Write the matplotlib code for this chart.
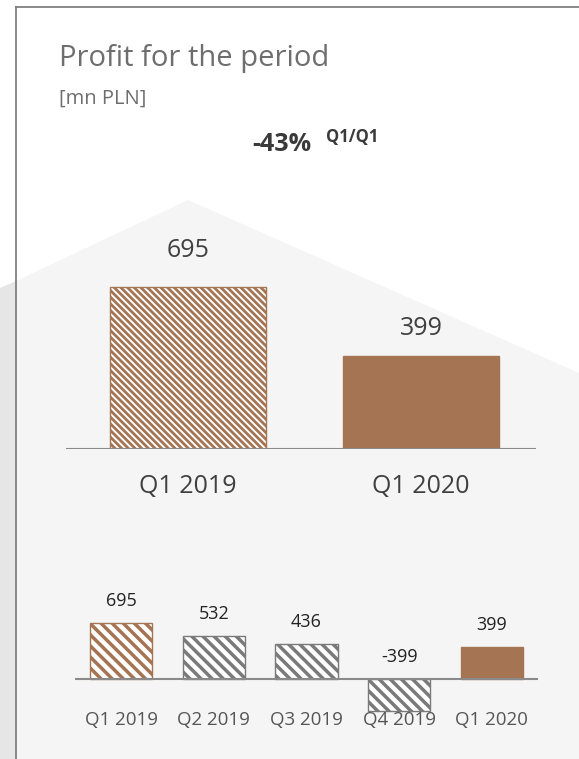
import numpy as np
import matplotlib.pyplot as plt
from matplotlib.patches import Polygon
from matplotlib.lines import Line2D

plt.rcParams['font.family'] = ['Open Sans', 'DejaVu Sans']

# data
main_labels = ['Q1 2019', 'Q1 2020']
main_values = [695, 399]
main_change = '-43%'
main_change_note = 'Q1/Q1'

quarter_labels = ['Q1 2019', 'Q2 2019', 'Q3 2019', 'Q4 2019', 'Q1 2020']
quarter_values = [695, 532, 436, -399, 399]

BROWN = '#a57453'
GREY = '#7a7a7a'
BS = chr(92)  # backslash for hatch patterns
W, H = 579, 759

fig = plt.figure(figsize=(W / 100, H / 100), dpi=100)
fig.patch.set_facecolor('white')

# background decoration in pixel coordinates
bg = fig.add_axes([0, 0, 1, 1])
bg.set_xlim(0, W)
bg.set_ylim(H, 0)
bg.axis('off')
bg.add_patch(Polygon([(16, 281), (188, 200), (579, 373), (579, 759), (16, 759)],
                     closed=True, facecolor='#f5f5f5', edgecolor='none'))
bg.add_patch(Polygon([(0, 288), (16, 281), (16, 759), (0, 759)],
                     closed=True, facecolor='#e6e6e6', edgecolor='none'))
bg.add_line(Line2D([16, 16], [7, 759], color='#808080', lw=1.3))
bg.add_line(Line2D([16, 579], [7, 7], color='#808080', lw=1.3))

bg.text(59, 66, 'Profit for the period', fontsize=21, color='#6e6e6e', va='baseline', ha='left')
bg.text(59, 104, '[mn PLN]', fontsize=14.5, color='#6e6e6e', va='baseline', ha='left')
bg.text(252, 151, main_change, fontsize=18, fontweight='bold', color='#3a3a3a', va='baseline', ha='left')
bg.text(326, 142, main_change_note, fontsize=12, fontweight='bold', color='#3a3a3a', va='baseline', ha='left')


def px_axes(x0, x1, y_base, px_per_unit, ymin, ymax):
    bottom = y_base - ymin * px_per_unit
    top = y_base - ymax * px_per_unit
    ax = fig.add_axes([x0 / W, 1 - bottom / H, (x1 - x0) / W, (bottom - top) / H])
    ax.set_ylim(ymin, ymax)
    ax.patch.set_alpha(0)
    for s in ax.spines.values():
        s.set_visible(False)
    ax.set_xticks([])
    ax.set_yticks([])
    return ax


def hatch_lw(bars, lw):
    for b in bars:
        if hasattr(b, 'set_hatch_linewidth'):
            b.set_hatch_linewidth(lw)


# upper chart: Q1 vs Q1
ax1 = px_axes(66, 536, 449, 0.2331, 0, 800)
x1 = np.arange(len(main_values))
ax1.set_xlim(-0.524, 1.494)
plt.rcParams['hatch.linewidth'] = 2.0
b = ax1.bar(x1[0], main_values[0], width=0.67, facecolor='white', edgecolor=BROWN,
            hatch=BS * 5, lw=1.0)
hatch_lw(b, 2.0)
ax1.bar(x1[1], main_values[1], width=0.67, facecolor=BROWN, edgecolor=BROWN, lw=1.0)
ax1.axhline(0, color='#8a8a8a', lw=1.5)
label_gap = [36, 27]
for xi, v, lab, g in zip(x1, main_values, main_labels, label_gap):
    ax1.annotate(str(v), (xi, v), xytext=(0, g), textcoords='offset pixels',
                 ha='center', va='center', fontsize=18, color='#404040')
    ax1.annotate(lab, (xi, 0), xytext=(0, -38), textcoords='offset pixels',
                 ha='center', va='center', fontsize=18, color='#404040')

# lower chart: quarterly
ax2 = px_axes(75, 538, 679, 0.0806, -500, 800)
x2 = np.arange(len(quarter_values))
ax2.set_xlim(-0.5, 4.5)
plt.rcParams['hatch.linewidth'] = 2.5
for xi, v in zip(x2, quarter_values):
    if xi == 0:
        b = ax2.bar(xi, v, width=0.67, facecolor='white', edgecolor=BROWN, hatch=BS * 3, lw=1.0)
    elif xi == len(quarter_values) - 1:
        b = ax2.bar(xi, v, width=0.67, facecolor=BROWN, edgecolor=BROWN, lw=1.0)
    else:
        b = ax2.bar(xi, v, width=0.67, facecolor='white', edgecolor=GREY, hatch=BS * 3, lw=1.0)
    hatch_lw(b, 2.5)
ax2.axhline(0, color='#8a8a8a', lw=1.5)
for xi, v, lab in zip(x2, quarter_values, quarter_labels):
    ax2.annotate(str(v), (xi, max(v, 0)), xytext=(0, 22), textcoords='offset pixels',
                 ha='center', va='center', fontsize=13, color='#222222')
    ax2.annotate(lab, (xi, 0), xytext=(0, -41), textcoords='offset pixels',
                 ha='center', va='center', fontsize=13.5, color='#555555')

fig.savefig('out.png', dpi=100)
